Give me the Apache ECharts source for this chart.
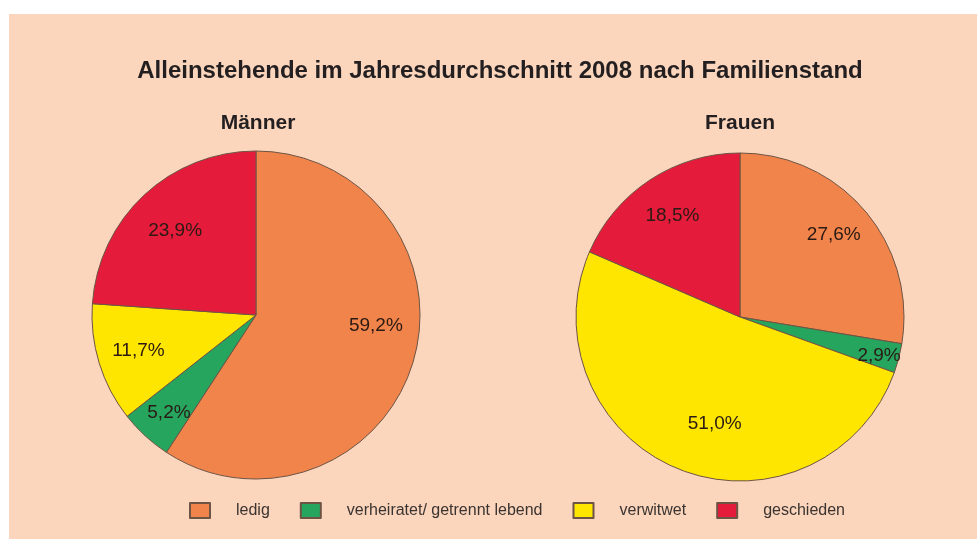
<!DOCTYPE html>
<html style='height: 100%'>
<head>
    <meta charset='utf-8'>
</head>
<body style='height: 100%; margin: 0; background: #fff'>
    <div id='container' style='width: 977px; height: 539px'></div>
    <script type='text/javascript' src='https://cdn.jsdelivr.net/npm/echarts@6/dist/echarts.min.js'></script>
    <script type="text/javascript">
var categories = ['ledig', 'verheiratet/ getrennt lebend', 'verwitwet', 'geschieden'];
var maenner = [59.2, 5.2, 11.7, 23.9];
var frauen = [27.6, 2.9, 51.0, 18.5];
var colors = ['#F0844A', '#25A55E', '#FFE600', '#E41B3A'];

var pies = [
    {name: 'Männer', values: maenner, cx: 256, cy: 315},
    {name: 'Frauen', values: frauen, cx: 740, cy: 317}
];
var R = 164;
// small hand nudges of the label texts, as in the original graphic
var nudge = [
    [[2, -24], [-4, 7], [0, 0], [3, 6]],
    [[0, -3], [20, 8], [20, -8], [0, 2]]
];

// label at the middle angle of the slice, ~3/4 of the radius
function labelAt(p, s, idx) {
    var total = 0, before = 0;
    for (var i = 0; i < p.values.length; i++) {
        total += p.values[i];
        if (i < idx) before += p.values[i];
    }
    var a = (before + p.values[idx] / 2) / total * 2 * Math.PI;
    return {
        x: p.cx + Math.sin(a) * R * 0.75 + nudge[s][idx][0],
        y: p.cy - Math.cos(a) * R * 0.75 + nudge[s][idx][1]
    };
}

var dom = document.getElementById("container");
var myChart = echarts.init(dom);

var series = pies.map(function (p, s) {
    return {
        name: p.name,
        type: 'pie',
        center: [p.cx, p.cy],
        radius: R,
        startAngle: 90,
        clockwise: true,
        silent: true,
        animation: false,
        data: categories.map(function (c, i) {
            return {name: c, value: p.values[i]};
        }),
        itemStyle: {borderColor: '#6e5444', borderWidth: 1},
        label: {
            show: true,
            position: 'inside',
            color: '#2a1a14',
            fontSize: 19,
            fontFamily: 'Liberation Sans, Arial, sans-serif',
            formatter: function (prm) {
                return prm.value.toFixed(1).replace('.', ',') + '%';
            }
        },
        labelLine: {show: false},
        labelLayout: function (prm) {
            return labelAt(p, s, prm.dataIndex);
        }
    };
});

var option = {
    backgroundColor: '#ffffff',
    color: colors,
    graphic: [{
        type: 'rect',
        z: -10,
        shape: {x: 9, y: 14, width: 968, height: 525},
        style: {fill: '#FBD5BC'}
    }],
    title: [
        {
            text: 'Alleinstehende im Jahresdurchschnitt 2008 nach Familienstand',
            left: 500, top: 59, textAlign: 'center', padding: 0,
            textStyle: {fontSize: 24, fontWeight: 'bold', color: '#231f20', fontFamily: 'Liberation Sans, Arial, sans-serif'}
        },
        {
            text: 'Männer',
            left: 258, top: 113, textAlign: 'center', padding: 0,
            textStyle: {fontSize: 21, fontWeight: 'bold', color: '#231f20', fontFamily: 'Liberation Sans, Arial, sans-serif'}
        },
        {
            text: 'Frauen',
            left: 740, top: 113, textAlign: 'center', padding: 0,
            textStyle: {fontSize: 21, fontWeight: 'bold', color: '#231f20', fontFamily: 'Liberation Sans, Arial, sans-serif'}
        }
    ],
    legend: {
        data: categories,
        left: 189,
        top: 502,
        padding: 0,
        itemWidth: 20,
        itemHeight: 15,
        itemGap: 30,
        icon: 'rect',
        selectedMode: false,
        textStyle: {
            fontSize: 16,
            color: '#3a3330',
            padding: [0, 0, 0, 21],
            fontFamily: 'Liberation Sans, Arial, sans-serif'
        }
    },
    series: series
};

if (option && typeof option === "object") {
    myChart.setOption(option, true);
}
    </script>
</body>
</html>
